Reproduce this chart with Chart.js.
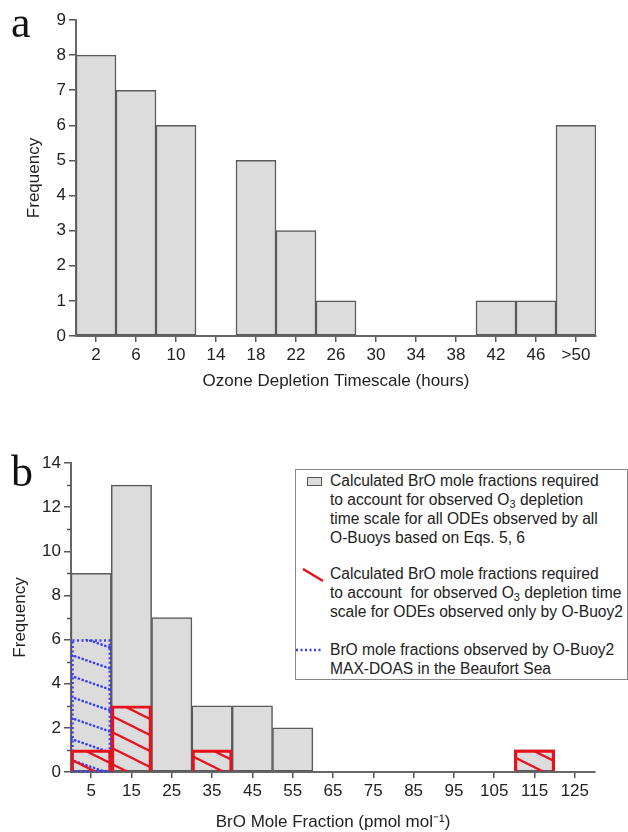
<!DOCTYPE html>
<html><head><meta charset="utf-8">
<script src="https://cdn.jsdelivr.net/npm/chart.js@4.4.1/dist/chart.umd.min.js"></script>
<style>
body{margin:0;width:628px;height:832px;position:relative;background:#fff;overflow:hidden;font-family:"Liberation Sans",Arial,sans-serif;color:#222}
canvas{position:absolute;left:0}
#ca{top:0}
#cb{top:420px}
.letter{position:absolute;font-family:"Liberation Serif",serif;font-size:44px;line-height:44px;color:#111}
#legend{position:absolute;left:295px;top:469px;width:331px;height:209px;border:1px solid #888;background:#fff}
.entry{position:absolute;left:34px;font-size:15.6px;line-height:19px;white-space:nowrap;color:#222}
.entry sub{font-size:11px;line-height:0;vertical-align:-3px}
.icon{position:absolute}
</style>
</head><body>
<canvas id="ca" width="628" height="400"></canvas>
<canvas id="cb" width="628" height="412"></canvas>
<div class="letter" style="left:11px;top:1px">a</div>
<div class="letter" style="left:11px;top:450px">b</div>
<div id="legend">
  <div class="icon" style="left:11px;top:7px;width:13px;height:7px;background:#dcdcdc;border:1.5px solid #555"></div>
  <div class="entry" style="top:1px">Calculated BrO mole fractions required<br>to account for observed O<sub>3</sub> depletion<br>time scale for all ODEs observed by all<br>O-Buoys based on Eqs. 5, 6</div>
  <svg class="icon" style="left:6px;top:98px" width="24" height="16"><line x1="1" y1="1" x2="21" y2="13" stroke="#e8101a" stroke-width="2.5"/></svg>
  <div class="entry" style="top:94px">Calculated BrO mole fractions required<br>to account&nbsp; for observed O<sub>3</sub> depletion time<br>scale for ODEs observed only by O-Buoy2</div>
  <svg class="icon" style="left:0px;top:177px" width="30" height="6"><line x1="0" y1="3" x2="27" y2="3" stroke="#3b3bff" stroke-width="2.5" stroke-dasharray="2,2.5"/></svg>
  <div class="entry" style="top:170px">BrO mole fractions observed by O-Buoy2<br>MAX-DOAS in the Beaufort Sea</div>
</div>
<script>
// ---- data ----
const binLabelsA = ['2','6','10','14','18','22','26','30','34','38','42','46','>50'];
const freqA = [8,7,6,0,5,3,1,0,0,0,1,1,6];

const binLabelsB = ['5','15','25','35','45','55','65','75','85','95','105','115','125'];
const freqAllB = [9,13,7,3,3,2,0,0,0,0,0,1,0];
const freqBuoy2B = [1,3,0,1,0,0,0,0,0,0,0,1,0];
const freqObsB = [6,0,0,0,0,0,0,0,0,0,0,0,0];

const nz = a => a.map(v => v === 0 ? null : v);

// ---- styles ----
const GRAY = '#dcdcdc', EDGE = '#5a5a5a', RED = '#e8101a', BLUE = '#3b3bff', TXT = '#222';
function hatch(color, w, h, lw, dash) {
  const c = document.createElement('canvas'); c.width = w; c.height = h;
  const g = c.getContext('2d');
  g.strokeStyle = color; g.lineWidth = lw; g.lineCap = 'round';
  if (dash) g.setLineDash(dash);
  for (let k = -1; k <= 1; k++) { g.beginPath(); g.moveTo(0, k*h); g.lineTo(w, k*h + h); g.stroke(); }
  return g.createPattern(c, 'repeat');
}
const redPat = hatch(RED, 32, 16, 2.3);
const bluePat = hatch(BLUE, 60, 21, 2.6, [0.1, 3.9]);

const tickFont = {family: '"Liberation Sans", Arial, sans-serif', size: 17};
const titleFont = {family: '"Liberation Sans", Arial, sans-serif', size: 17, lineHeight: 1.0};

function baseScales(yMax, yStep, yWidth, xHeight, yTitlePad, xTitleText, xTitlePad) {
  return {
    x: {
      type: 'category', offset: true,
      grid: {display: true, drawOnChartArea: false, drawTicks: true, tickLength: 6, color: '#555', lineWidth: 1.5, offset: false},
      border: {display: true, color: '#666', width: 2},
      ticks: {font: tickFont, color: TXT, padding: 3, maxRotation: 0, autoSkip: false},
      title: {display: true, text: xTitleText, font: titleFont, color: TXT, padding: {top: 0, bottom: xTitlePad}},
      afterFit: s => { s.height = xHeight; }
    },
    y: {
      type: 'linear', min: 0, max: yMax,
      grid: {display: true, drawOnChartArea: false, drawTicks: true, tickLength: 7, color: '#555', lineWidth: 1.5},
      border: {display: true, color: '#666', width: 2},
      ticks: {stepSize: yStep, font: tickFont, color: TXT, padding: 3},
      title: {display: true, text: 'Frequency', font: titleFont, color: TXT, padding: {top: yTitlePad, bottom: 0}},
      afterFit: s => { s.width = yWidth; }
    }
  };
}

// ---- panel a ----
new Chart(document.getElementById('ca'), {
  type: 'bar',
  data: {
    labels: binLabelsA,
    datasets: [{
      data: nz(freqA), backgroundColor: GRAY, borderColor: EDGE, borderWidth: 1.5,
      borderSkipped: false, categoryPercentage: 1, barPercentage: 1
    }]
  },
  options: {
    responsive: false, animation: false, devicePixelRatio: 1,
    layout: {padding: {left: 0, right: 32, top: 20, bottom: 0}},
    plugins: {legend: {display: false}, tooltip: {enabled: false}},
    scales: baseScales(9, 1, 76, 64, 26, 'Ozone Depletion Timescale (hours)', 10)
  }
});

// ---- panel b ----
const dottedBorder = {
  id: 'dottedBorder',
  afterDatasetDraw(chart, args) {
    const ds = chart.data.datasets[args.index];
    if (!ds.dotted) return;
    const ctx = chart.ctx;
    ctx.save();
    ctx.strokeStyle = BLUE; ctx.lineWidth = 2.5; ctx.setLineDash([2, 2.5]);
    args.meta.data.forEach((el, i) => {
      if (ds.data[i] == null) return;
      const p = el.getProps(['x', 'y', 'base', 'width'], true);
      ctx.strokeRect(p.x - p.width/2 + 1.5, p.y + 1, p.width - 3, p.base - p.y - 1);
    });
    ctx.restore();
  }
};
const minorTicks = {
  id: 'minorTicks',
  afterDraw(chart) {
    const y = chart.scales.y, ctx = chart.ctx, left = chart.chartArea.left;
    ctx.save(); ctx.strokeStyle = '#555'; ctx.lineWidth = 1.5;
    for (let v = 1; v < y.max; v += 2) {
      const py = Math.round(y.getPixelForValue(v)) + 0.5;
      ctx.beginPath(); ctx.moveTo(left - 4, py); ctx.lineTo(left, py); ctx.stroke();
    }
    ctx.restore();
  }
};

new Chart(document.getElementById('cb'), {
  type: 'bar',
  data: {
    labels: binLabelsB,
    datasets: [
      {data: nz(freqBuoy2B), backgroundColor: redPat, borderColor: RED, borderWidth: 2.5,
       categoryPercentage: 1, barPercentage: 1, grouped: false, order: 0},
      {data: nz(freqObsB), backgroundColor: bluePat, borderWidth: 0, dotted: true,
       categoryPercentage: 1, barPercentage: 1, grouped: false, order: 1},
      {data: nz(freqAllB), backgroundColor: GRAY, borderColor: EDGE, borderWidth: 1.5, borderSkipped: false,
       categoryPercentage: 1, barPercentage: 1, grouped: false, order: 2}
    ]
  },
  options: {
    responsive: false, animation: false, devicePixelRatio: 1,
    layout: {padding: {left: 0, right: 33, top: 43, bottom: 0}},
    plugins: {legend: {display: false}, tooltip: {enabled: false}},
    scales: baseScales(14, 2, 71, 60, 12, 'BrO Mole Fraction (pmol mol\u207B\u00B9)', 1)
  },
  plugins: [dottedBorder, minorTicks]
});
</script>
</body></html>
